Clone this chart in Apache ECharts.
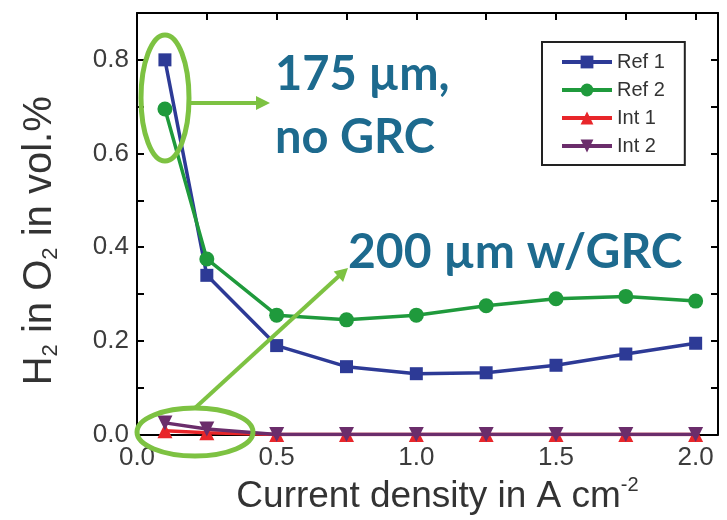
<!DOCTYPE html>
<html>
<head>
<meta charset="utf-8">
<script src="https://cdn.jsdelivr.net/npm/echarts@6/dist/echarts.min.js"></script>
<style>
  html, body { margin: 0; padding: 0; background: #fff; }
  #chart { width: 727px; height: 520px; }
</style>
</head>
<body>
<div id="chart"></div>
<script>
// ---- data ----
const xValues = [0.1, 0.25, 0.5, 0.75, 1.0, 1.25, 1.5, 1.75, 2.0];
const ref1 = [0.80, 0.34, 0.19, 0.145, 0.13, 0.132, 0.148, 0.172, 0.195];
const ref2 = [0.695, 0.375, 0.255, 0.245, 0.255, 0.275, 0.29, 0.295, 0.285];
const int1 = [0.008, 0.004, 0, 0, 0, 0, 0, 0, 0];
const int2 = [0.025, 0.012, 0, 0, 0, 0, 0, 0, 0];
const seriesNames = ['Ref 1', 'Ref 2', 'Int 1', 'Int 2'];
const xTickLabels = [0, 0.5, 1.0, 1.5, 2.0];
const xTicks = [0, 0.25, 0.5, 0.75, 1.0, 1.25, 1.5, 1.75, 2.0];
const yTickLabels = [0, 0.2, 0.4, 0.6, 0.8];
const yTicks = [0, 0.1, 0.2, 0.3, 0.4, 0.5, 0.6, 0.7, 0.8];

const pairs = (xs, ys) => xs.map((x, i) => [x, ys[i]]);

const FONT = 'Liberation Sans, Arial, sans-serif';
const AXIS_COLOR = '#000';
const ANNOT_GREEN = '#7dc242';
const ANNOT_TEXT = '#1d6a8e';

const frameLine = { show: true, onZero: false, lineStyle: { color: AXIS_COLOR, width: 2 } };
const tickStyle = (vals) => ({ show: true, inside: true, length: 7, customValues: vals, lineStyle: { color: AXIS_COLOR, width: 2 } });

const chart = echarts.init(document.getElementById('chart'), null, { renderer: 'canvas' });

const option = {
  backgroundColor: '#fff',
  animation: false,
  grid: { left: 137, right: 9, top: 13, bottom: 77, containLabel: false },
  legend: {
    data: seriesNames,
    orient: 'vertical',
    left: 542, top: 42,
    itemWidth: 50, itemHeight: 16, itemGap: 8,
    borderColor: '#222', borderWidth: 2, backgroundColor: '#fff',
    padding: [10, 20, 9, 18],
    lineStyle: { width: 4 },
    textStyle: { fontSize: 20, lineHeight: 20, color: '#333', fontFamily: FONT }
  },
  xAxis: [
    {
      type: 'value', position: 'bottom', min: 0, max: 2.08,
      axisLine: frameLine,
      axisTick: tickStyle(xTicks),
      axisLabel: { customValues: xTickLabels, formatter: v => v.toFixed(1), fontSize: 26, color: '#3c3c3c', margin: 10, fontFamily: FONT },
      splitLine: { show: false },
      name: '{a|Current density in A cm}{s|-2}',
      nameLocation: 'middle', nameGap: 34,
      nameTextStyle: {
        padding: [0, 0, 0, 20],
        rich: {
          a: { fontSize: 37, color: '#333', fontFamily: FONT, lineHeight: 42 },
          s: { fontSize: 20, color: '#333', fontFamily: FONT, verticalAlign: 'top', lineHeight: 42, padding: [0, 0, 14, 0] }
        }
      }
    },
    {
      type: 'value', position: 'top', min: 0, max: 2.08,
      axisLine: frameLine, axisTick: tickStyle(xTicks),
      axisLabel: { show: false }, splitLine: { show: false }
    }
  ],
  yAxis: [
    {
      type: 'value', position: 'left', min: 0, max: 0.9,
      axisLine: frameLine,
      axisTick: tickStyle(yTicks),
      axisLabel: { customValues: yTickLabels, formatter: v => v.toFixed(1), fontSize: 26, color: '#3c3c3c', margin: 8, fontFamily: FONT },
      splitLine: { show: false },
      name: '{a|H}{b|2}{a| in O}{b|2}{a| in vol.%}',
      nameLocation: 'middle', nameGap: 75, nameRotate: 90,
      nameTextStyle: {
        padding: [0, 34, 0, 0],
        rich: {
          a: { fontSize: 40, color: '#333', fontFamily: FONT, lineHeight: 44 },
          b: { fontSize: 22, color: '#333', fontFamily: FONT, verticalAlign: 'bottom', lineHeight: 44 }
        }
      }
    },
    {
      type: 'value', position: 'right', min: 0, max: 0.9,
      axisLine: frameLine, axisTick: tickStyle(yTicks),
      axisLabel: { show: false }, splitLine: { show: false }
    }
  ],
  series: [
    {
      name: seriesNames[0], type: 'line', data: pairs(xValues, ref1),
      symbol: 'rect', symbolSize: 13,
      lineStyle: { width: 3.5, color: '#2d3a96' }, itemStyle: { color: '#2d3a96' }, z: 3
    },
    {
      name: seriesNames[1], type: 'line', data: pairs(xValues, ref2),
      symbol: 'circle', symbolSize: 15,
      lineStyle: { width: 3.5, color: '#1f9a3c' }, itemStyle: { color: '#1f9a3c' }, z: 4
    },
    {
      name: seriesNames[2], type: 'line', data: pairs(xValues, int1),
      symbol: 'triangle', symbolSize: 15,
      lineStyle: { width: 3.5, color: '#e8262a' }, itemStyle: { color: '#e8262a' }, z: 5
    },
    {
      name: seriesNames[3], type: 'line', data: pairs(xValues, int2),
      symbol: 'triangle', symbolRotate: 180, symbolSize: 15,
      lineStyle: { width: 3.5, color: '#6b2d6b' }, itemStyle: { color: '#6b2d6b' }, z: 6
    }
  ],
  graphic: [
    // annotation: ellipses
    { type: 'ellipse', z: 100, shape: { cx: 165, cy: 98, rx: 24, ry: 63 }, style: { fill: 'none', stroke: ANNOT_GREEN, lineWidth: 5 } },
    { type: 'ellipse', z: 100, shape: { cx: 195, cy: 432, rx: 58, ry: 24 }, style: { fill: 'none', stroke: ANNOT_GREEN, lineWidth: 5 } },
    // arrows
    { type: 'line', z: 100, shape: { x1: 190, y1: 103, x2: 258, y2: 103 }, style: { stroke: ANNOT_GREEN, lineWidth: 4 } },
    { type: 'polygon', z: 100, shape: { points: [[270, 103], [256, 96], [256, 110]] }, style: { fill: ANNOT_GREEN } },
    { type: 'line', z: 100, shape: { x1: 195, y1: 408, x2: 339, y2: 276 }, style: { stroke: ANNOT_GREEN, lineWidth: 4 } },
    { type: 'polygon', z: 100, shape: { points: [[348, 268], [343.1, 282], [333.7, 271.6]] }, style: { fill: ANNOT_GREEN } },
    // annotation texts
    { type: 'text', z: 101, style: { x: 275, y: 75, text: '175 µm,', font: 'bold 47px Lato, sans-serif', fill: ANNOT_TEXT, verticalAlign: 'middle', align: 'left' } },
    { type: 'text', z: 101, style: { x: 275, y: 138, text: 'no GRC', font: 'bold 47px Lato, sans-serif', fill: ANNOT_TEXT, verticalAlign: 'middle', align: 'left' } },
    { type: 'text', z: 101, style: { x: 348, y: 253, text: '200 µm w/GRC', font: 'bold 48px Lato, sans-serif', fill: ANNOT_TEXT, verticalAlign: 'middle', align: 'left' } }
  ]
};

chart.setOption(option);
</script>
</body>
</html>
